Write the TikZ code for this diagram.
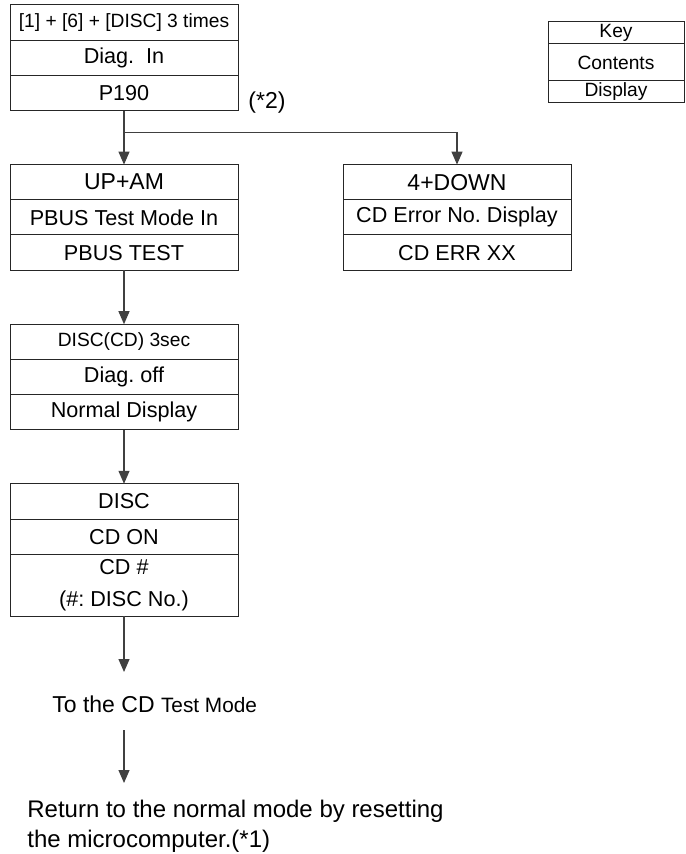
\documentclass[tikz,border=0pt]{standalone}
\usepackage{fontspec}
\setmainfont{Liberation Sans}
\usepackage{tikz}
\usetikzlibrary{arrows.meta, positioning}
\frenchspacing

\newcommand{\boxfont}{\fontsize{10.8}{13}\selectfont}
\newcommand{\keyfont}{\fontsize{11.5}{13}\selectfont}
\newcommand{\smallfont}{\fontsize{9.6}{12}\selectfont}
\newcommand{\notefont}{\fontsize{12}{15}\selectfont}

\begin{document}
\begin{tikzpicture}[x=0.5pt, y=-0.5pt, node distance=27pt]
	% Styles
	\tikzstyle{cell} = [draw=black!85, line width=0.5pt, rectangle, minimum width=114pt, minimum height=17.6pt, inner sep=0pt, outer sep=0pt, align=center, font=\boxfont]
	\tikzstyle{keycell} = [cell, minimum width=68pt, font=\smallfont]
	\tikzstyle{flowarrow} = [black!75, line width=0.6pt, -{Triangle[length=6.5pt, width=5.5pt]}]
	\tikzstyle{notetext} = [inner sep=0pt, align=left]

	\useasboundingbox (0,0) rectangle (685,854);

	% Nodes
	\node (a1) [cell, anchor=north, font=\smallfont] at (124,5) {[1] + [6] + [DISC] 3 times};
	\node (a2) [cell, below=0pt of a1] {Diag.\ \ In};
	\node (a3) [cell, below=0pt of a2] {P190};
	\node (star2) [anchor=base west, font=\keyfont, inner sep=0pt] at ([shift={(10,-2)}]a3.south east) {(*2)};

	\node (b1) [cell, font=\keyfont, below=of a3] {UP+AM};
	\node (b2) [cell, below=0pt of b1] {PBUS Test Mode In};
	\node (b3) [cell, below=0pt of b2] {PBUS TEST};

	\node (c1) [cell, font=\keyfont, right=52.5pt of b1] {4+DOWN};
	\node (c2) [cell, below=0pt of c1] {CD Error No. Display};
	\node (c3) [cell, below=0pt of c2] {CD ERR XX};

	\node (d1) [cell, font=\smallfont, below=of b3] {DISC(CD) 3sec};
	\node (d2) [cell, below=0pt of d1] {Diag. off};
	\node (d3) [cell, below=0pt of d2] {Normal Display};

	\node (e1) [cell, below=of d3] {DISC};
	\node (e2) [cell, below=0pt of e1] {CD ON};
	\node (e3) [cell, below=0pt of e2, minimum height=31pt, font={\fontsize{10.8}{16}\selectfont}] {CD \#\\(\#: DISC No.)};

	% Legend
	\node (k1) [keycell, anchor=north, minimum height=11pt] at (616,22) {Key};
	\node (k2) [keycell, below=0pt of k1, minimum height=18.5pt] {Contents};
	\node (k3) [keycell, below=0pt of k2, minimum height=11pt] {Display};

	% Notes
	\coordinate (t1) at (124,672);
	\node (totest) [notetext, anchor=base west, font=\keyfont] at (52,712) {To the CD {\fontsize{10.4}{12}\selectfont Test Mode}};
	\coordinate (t2) at (124,730);
	\coordinate (t3) at (124,783);
	\node (reset) [notetext, anchor=north west, font=\notefont] at (27,800) {Return to the normal mode by resetting\\the microcomputer.(*1)};

	% Connections
	\draw [flowarrow] (a3) -- (b1);
	\draw [flowarrow] (a3.south) ++(0,22) -| (c1.north);
	\draw [flowarrow] (b3) -- (d1);
	\draw [flowarrow] (d3) -- (e1);
	\draw [flowarrow] (e3) -- (t1);
	\draw [flowarrow] (t2) -- (t3);

\end{tikzpicture}
\end{document}
